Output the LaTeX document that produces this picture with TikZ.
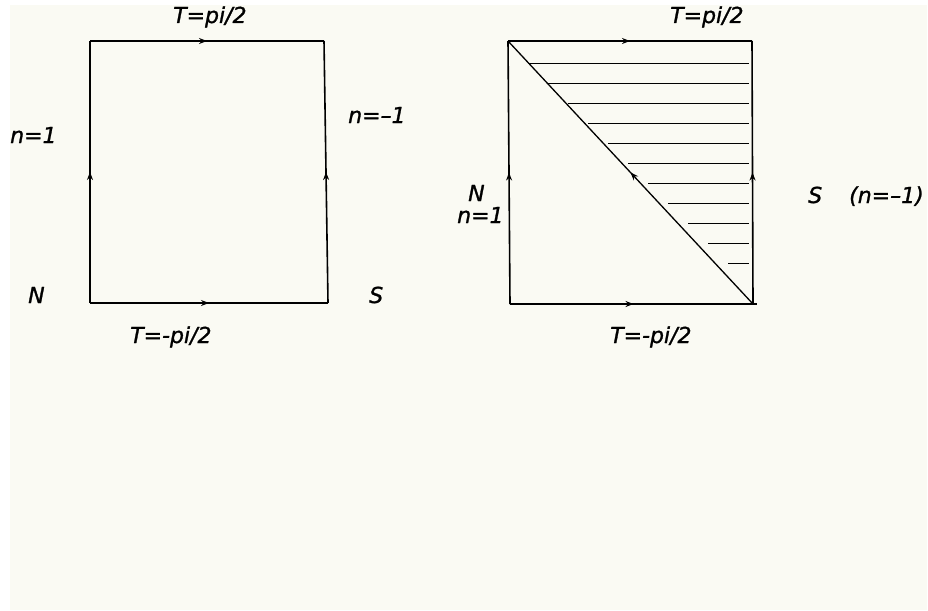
\documentclass[tikz,border=0pt]{standalone}
\usepackage{fontspec}
\setmainfont{DejaVu Sans}
\newfontfamily\labfont[FakeBold=1.2]{DejaVu Sans Oblique}
\usetikzlibrary{decorations.markings,arrows.meta}
\definecolor{paper}{RGB}{250,250,243}
\tikzset{
  edge/.style={line width=1.6pt, postaction={decorate},
    decoration={markings, mark=at position 0.5 with {\arrow{Stealth[length=8pt,width=6pt]}}}},
  hatch/.style={line width=1.3pt},
  lab/.style={anchor=base west, inner sep=0pt, font=\fontsize{22}{25}\labfont}
}
\begin{document}
\begin{tikzpicture}[x=1pt,y=-1pt]
\useasboundingbox (0,0) rectangle (928,610);
\fill[white] (0,0) rectangle (928,610);
\fill[paper] (10,5) rectangle (927,610);
% left square
\coordinate (a1) at (90,303);
\coordinate (a2) at (328,303);
\coordinate (a3) at (324,41);
\coordinate (a4) at (90,41);
\draw[edge] (a1) -- (a4);
\draw[edge] (a4) -- (a3);
\draw[edge] (a1) -- (a2);
\draw[edge] (a2) -- (a3);
% right square
\coordinate (b1) at (510,304);
\coordinate (b2) at (753,304);
\coordinate (b2x) at (757,304);
\coordinate (b3) at (752,41);
\coordinate (b4) at (508,41);
\draw[edge] (b1) -- (b4);
\draw[edge] (b4) -- (b3);
\draw[edge] (b1) -- (b2x);
\draw[edge] (b2) -- (b3);
\draw[edge, line width=1.3pt] (b2) -- (b4);
% hatching
\foreach \i in {0,...,10}{
  \draw[hatch] ({528+20*\i},{63.3+20*\i}) -- (749,{63.3+20*\i});
}
% labels
\node[lab] (t1) at (173,23) {T=pi/2};
\node[lab] (n1) at (10,143) {n=1};
\node[lab] (m1) at (348,123) {n=–1};
\node[lab] (N1) at (28,303) {N};
\node[lab] (S1) at (369,303) {S};
\node[lab] (b1l) at (130,343) {T=-pi/2};
\node[lab] (t2) at (670,23) {T=pi/2};
\node[lab] (N2) at (468,201) {N};
\node[lab] (n2) at (457,223) {n=1};
\node[lab] (S2) at (808,203) {S};
\node[lab] (m2) at (849,203) {(n=–1)};
\node[lab] (b2l) at (610,343) {T=-pi/2};
\end{tikzpicture}
\end{document}
